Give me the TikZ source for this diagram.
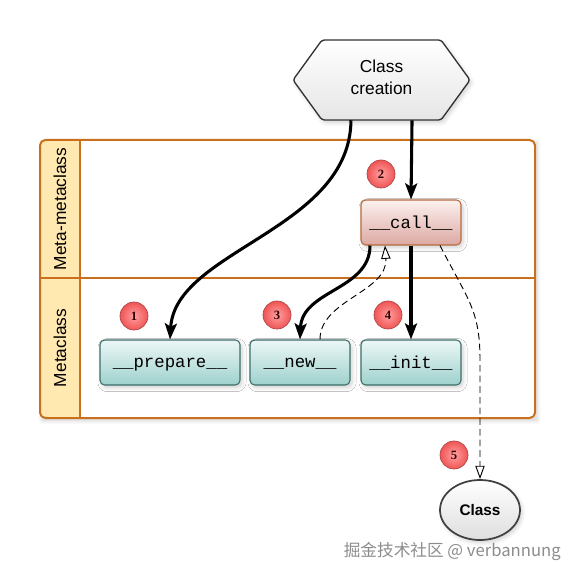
\documentclass[tikz,border=0pt]{standalone}
\usepackage{fontspec}
\setmainfont{Liberation Sans}
\setmonofont{Liberation Mono}
\newfontfamily\cjkfont{Noto Sans CJK SC}
\newfontfamily\badgefont{Liberation Serif}
\usetikzlibrary{arrows.meta,shadows.blur,shapes.geometric}
\definecolor{frameorange}{RGB}{200,112,30}
\definecolor{laneyellow}{RGB}{255,233,176}
\definecolor{tealtop}{RGB}{236,247,246}
\definecolor{tealbot}{RGB}{158,209,205}
\definecolor{tealline}{RGB}{61,110,105}
\definecolor{calltop}{RGB}{251,241,239}
\definecolor{callbot}{RGB}{221,168,162}
\definecolor{callline}{RGB}{182,106,62}
\definecolor{badgein}{RGB}{255,160,160}
\definecolor{badgeout}{RGB}{240,85,85}
\definecolor{badgeline}{RGB}{170,70,70}
\tikzset{
  softshadow/.style={blur shadow={shadow blur steps=6,shadow xshift=1.5pt,shadow yshift=-2pt,shadow opacity=18,shadow blur radius=3pt}},
  method/.style={draw=tealline,line width=0.8pt,rounded corners=3.5pt,top color=tealtop,bottom color=tealbot,
     minimum height=33.75pt,inner sep=0pt,text depth=0pt,font=\ttfamily\fontsize{13}{15}\selectfont,softshadow},
  callbox/.style={method,draw=callline,top color=calltop,bottom color=callbot},
  badge/.style={circle,draw=badgeline,line width=0.5pt,inner color=badgein,outer color=badgeout,
     minimum size=21pt,inner sep=0pt,font=\badgefont\bfseries\fontsize{9.5}{10}\selectfont,text=black!80!red},
  lanelabel/.style={rotate=90,font=\fontsize{13}{15}\selectfont,inner sep=0pt},
  thickarrow/.style={line width=2.3pt,-{Stealth[length=12pt,width=9pt,inset=2.5pt]}},
  dasharrow/.style={line width=0.7pt,dash pattern=on 5pt off 3pt,-{Triangle[open,length=10pt,width=7pt,fill=white]}},
}
\begin{document}
\begin{tikzpicture}[x=0.75pt,y=-0.75pt]
\useasboundingbox (0,0) rectangle (575,580);

% swimlane frame
\fill[white,softshadow] (40,140) rectangle (535,418);
\fill[laneyellow,rounded corners=4pt] (40,140) rectangle (80,418);
\fill[laneyellow] (60,140) rectangle (80,418);
\draw[frameorange,line width=1.5pt,rounded corners=4pt] (40,140) rectangle (535,418);
\draw[frameorange,line width=1.5pt] (80,140) -- (80,418);
\draw[frameorange,line width=1.5pt] (40,278) -- (535,278);
\node[lanelabel] (lanemeta) at (60,209) {Meta-metaclass};
\node[lanelabel] (lanemc) at (60,348) {Metaclass};

% hexagon
\draw[draw=black!80,line width=1pt,top color=white,bottom color=black!10,rounded corners=2pt,softshadow]
  (293,80) -- (322,40) -- (441,40) -- (470,80) -- (441,120) -- (322,120) -- cycle;
\node[minimum width=133.5pt,minimum height=60pt,inner sep=0pt,align=center,
      font=\fontsize{13}{16.5}\selectfont] (hex) at (381.5,80) {};
\node[align=center,inner sep=0pt,font=\fontsize{13}{16.5}\selectfont] (hextext) at (381.5,77) {Class\\creation};

% method boxes
\node[callbox,minimum width=75pt] (call) at (411,222.5) {\_\_call\_\_};
\node[method,minimum width=105pt] (prepare) at (170,362.5) {\_\_prepare\_\_};
\node[method,minimum width=75pt] (new) at (300,362.5) {\_\_new\_\_};
\node[method,minimum width=75pt] (init) at (411,362.5) {\_\_init\_\_};

% class ellipse
\node[ellipse,draw=black!75,line width=1.3pt,top color=white,bottom color=black!13,
      minimum width=60pt,minimum height=45pt,inner sep=0pt,
      font=\bfseries\fontsize{11.5}{13}\selectfont,softshadow] (cls) at (480,510) {Class};

% badges
\node[badge] (b1) at (134,316) {1};
\node[badge] (b2) at (381,174) {2};
\node[badge] (b3) at (277,315) {3};
\node[badge] (b4) at (388,315) {4};
\node[badge] (b5) at (454,455) {5};

% connectors
\draw[thickarrow] ([xshift=-22.9pt]hex.south) .. controls (350,230) and (175,250) .. (prepare.north);
\draw[thickarrow] ([xshift=22.9pt]hex.south) -- (call.north);
\draw[thickarrow] ([xshift=-30.75pt]call.south) .. controls (370,290) and (302,290) .. (new.north);
\draw[thickarrow] (call.south) -- (init.north);
\draw[dasharrow] ([xshift=15pt]new.north) .. controls (320,300) and (388,292) .. ([xshift=-19.5pt]call.south);
\draw[dasharrow] ([xshift=21.75pt]call.south) .. controls (468,300) and (480,310) .. (480,360) -- (cls.north);

% watermark
\node[anchor=east,text=black!45,font=\cjkfont\fontsize{12.5}{14}\selectfont,inner sep=0pt] (wm) at (561,552) {掘金技术社区 @ verbannung};
\end{tikzpicture}
\end{document}
